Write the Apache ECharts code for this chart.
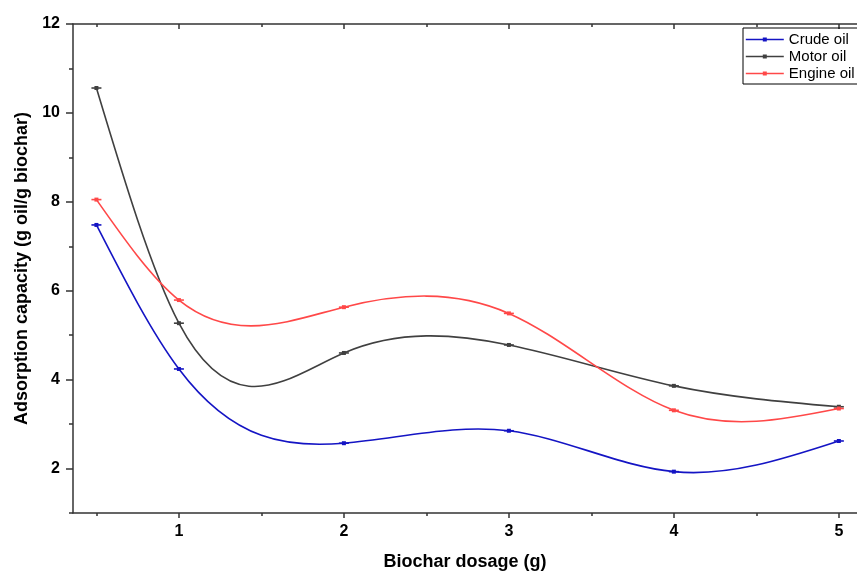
<!DOCTYPE html>
<html>
<head>
<meta charset="utf-8">
<script src="https://cdn.jsdelivr.net/npm/echarts@6/dist/echarts.min.js"></script>
<style>
html,body{margin:0;padding:0;background:#fff;}
#chart{width:857px;height:572px;}
</style>
</head>
<body>
<div id="chart"></div>
<script>
// ---- data ----
var dosage = [0.5, 1, 2, 3, 4, 5];
var crudeOil = [7.48, 4.24, 2.57, 2.85, 1.93, 2.62];
var motorOil = [10.56, 5.27, 4.60, 4.78, 3.86, 3.39];
var engineOil = [8.05, 5.79, 5.63, 5.49, 3.31, 3.35];
var seriesNames = ['Crude oil', 'Motor oil', 'Engine oil'];
var xTickLabels = [1, 2, 3, 4, 5];
var xMinorTicks = [0.5, 1.5, 2.5, 3.5, 4.5];
var yTickLabels = [2, 4, 6, 8, 10, 12];
var yMinorTicks = [1, 3, 5, 7, 9, 11];

var colors = ['#1414c4', '#404040', '#ff4848'];
var FONT = '"Liberation Sans", Arial, Helvetica, sans-serif';

// Natural cubic spline (as in the source plot's spline connector), expressed as Bezier segments
function splineBeziers(xs, ys) {
  var n = xs.length, h = [], s = [], i;
  for (i = 0; i < n - 1; i++) { h[i] = xs[i + 1] - xs[i]; s[i] = (ys[i + 1] - ys[i]) / h[i]; }
  var M = new Array(n).fill(0);
  var m = n - 2;
  if (m > 0) {
    var a = [], b = [], c = [], d = [];
    for (i = 1; i <= m; i++) {
      a.push(h[i - 1]); b.push(2 * (h[i - 1] + h[i])); c.push(h[i]); d.push(6 * (s[i] - s[i - 1]));
    }
    for (i = 1; i < m; i++) {
      var w = a[i] / b[i - 1];
      b[i] -= w * c[i - 1]; d[i] -= w * d[i - 1];
    }
    var sol = new Array(m);
    sol[m - 1] = d[m - 1] / b[m - 1];
    for (i = m - 2; i >= 0; i--) sol[i] = (d[i] - c[i] * sol[i + 1]) / b[i];
    for (i = 0; i < m; i++) M[i + 1] = sol[i];
  }
  var segs = [];
  for (i = 0; i < n - 1; i++) {
    var d0 = s[i] - h[i] * (2 * M[i] + M[i + 1]) / 6;
    var d1 = s[i] + h[i] * (M[i] + 2 * M[i + 1]) / 6;
    segs.push([
      [xs[i], ys[i]],
      [xs[i] + h[i] / 3, ys[i] + d0 * h[i] / 3],
      [xs[i + 1] - h[i] / 3, ys[i + 1] - d1 * h[i] / 3],
      [xs[i + 1], ys[i + 1]]
    ]);
  }
  return segs;
}

var allValues = [crudeOil, motorOil, engineOil];

function pairs(vals) { return dosage.map(function (x, i) { return [x, vals[i]]; }); }

function makeCurveSeries(vals, color) {
  var segs = splineBeziers(dosage, vals);
  return {
    type: 'custom',
    name: 'curve',
    xAxisIndex: 0, yAxisIndex: 0,
    data: pairs(vals),
    encode: { x: 0, y: 1 },
    silent: true,
    z: 2,
    renderItem: function (params, api) {
      var i = params.dataIndex;
      var children = [];
      if (i < segs.length) {
        var sg = segs[i];
        var p0 = api.coord(sg[0]), p1 = api.coord(sg[1]), p2 = api.coord(sg[2]), p3 = api.coord(sg[3]);
        children.push({
          type: 'bezierCurve',
          shape: { x1: p0[0], y1: p0[1], cpx1: p1[0], cpy1: p1[1], cpx2: p2[0], cpy2: p2[1], x2: p3[0], y2: p3[1] },
          style: { stroke: color, fill: null, lineWidth: 1.6 }
        });
      }
      var p = api.coord([api.value(0), api.value(1)]);
      children.push({
        type: 'line',
        shape: { x1: p[0] - 5, y1: p[1], x2: p[0] + 5, y2: p[1] },
        style: { stroke: color, lineWidth: 1.6 }
      });
      return { type: 'group', children: children };
    }
  };
}

var series = [];
allValues.forEach(function (vals, k) {
  series.push(makeCurveSeries(vals, colors[k]));
});
allValues.forEach(function (vals, k) {
  series.push({
    type: 'line',
    name: seriesNames[k],
    data: pairs(vals),
    symbol: 'rect',
    symbolSize: 4,
    showSymbol: true,
    lineStyle: { opacity: 0, width: 1.6, color: colors[k] },
    itemStyle: { color: colors[k] },
    z: 3,
    animation: false
  });
});

var axisLineStyle = { color: '#333', width: 1.5 };
var XMIN = 0.358, XMAX = 5.11;

var option = {
  backgroundColor: '#fff',
  animation: false,
  grid: { left: 73, top: 24, right: 0, bottom: 59, containLabel: false, outerBoundsMode: 'none' },
  legend: {
    data: seriesNames,
    orient: 'vertical',
    left: 743, top: 28,
    itemWidth: 38, itemHeight: 5,
    itemGap: 2,
    padding: [4, 3, 3, 2],
    borderColor: '#000', borderWidth: 1,
    lineStyle: { opacity: 1, width: 1.6 },
    textStyle: { fontSize: 15, color: '#000', fontFamily: FONT }
  },
  xAxis: [
    {
      type: 'value', position: 'bottom', min: XMIN, max: XMAX,
      axisLine: { show: true, lineStyle: axisLineStyle },
      axisTick: { show: true, customValues: xTickLabels, length: 5, lineStyle: axisLineStyle },
      axisLabel: { customValues: xTickLabels, fontSize: 16, fontWeight: 'bold', color: '#000', fontFamily: FONT, margin: 11 },
      splitLine: { show: false },
      name: 'Biochar dosage (g)', nameLocation: 'middle', nameGap: 40,
      nameTextStyle: { fontSize: 18, fontWeight: 'bold', color: '#000', fontFamily: FONT }
    },
    {
      type: 'value', position: 'bottom', min: XMIN, max: XMAX,
      axisLine: { show: false },
      axisTick: { show: true, customValues: xMinorTicks, length: 3, lineStyle: axisLineStyle },
      axisLabel: { show: false }, splitLine: { show: false }
    },
    {
      type: 'value', position: 'top', min: XMIN, max: XMAX,
      axisLine: { show: true, lineStyle: axisLineStyle },
      axisTick: { show: true, inside: true, customValues: xTickLabels, length: 5, lineStyle: axisLineStyle },
      axisLabel: { show: false }, splitLine: { show: false }
    },
    {
      type: 'value', position: 'top', min: XMIN, max: XMAX,
      axisLine: { show: false },
      axisTick: { show: true, inside: true, customValues: xMinorTicks, length: 3, lineStyle: axisLineStyle },
      axisLabel: { show: false }, splitLine: { show: false }
    }
  ],
  yAxis: [
    {
      type: 'value', position: 'left', min: 1, max: 12,
      axisLine: { show: true, lineStyle: axisLineStyle },
      axisTick: { show: true, customValues: yTickLabels, length: 7, lineStyle: axisLineStyle },
      axisLabel: { customValues: yTickLabels, fontSize: 16, fontWeight: 'bold', color: '#000', fontFamily: FONT, margin: 13 },
      splitLine: { show: false },
      name: 'Adsorption capacity (g oil/g biochar)', nameLocation: 'middle', nameGap: 42,
      nameTextStyle: { fontSize: 18, fontWeight: 'bold', color: '#000', fontFamily: FONT }
    },
    {
      type: 'value', position: 'left', min: 1, max: 12,
      axisLine: { show: false },
      axisTick: { show: true, customValues: yMinorTicks, length: 4, lineStyle: axisLineStyle },
      axisLabel: { show: false }, splitLine: { show: false }
    }
  ],
  series: series
};

var chart = echarts.init(document.getElementById('chart'), null, { renderer: 'canvas' });
chart.setOption(option);
</script>
</body>
</html>
